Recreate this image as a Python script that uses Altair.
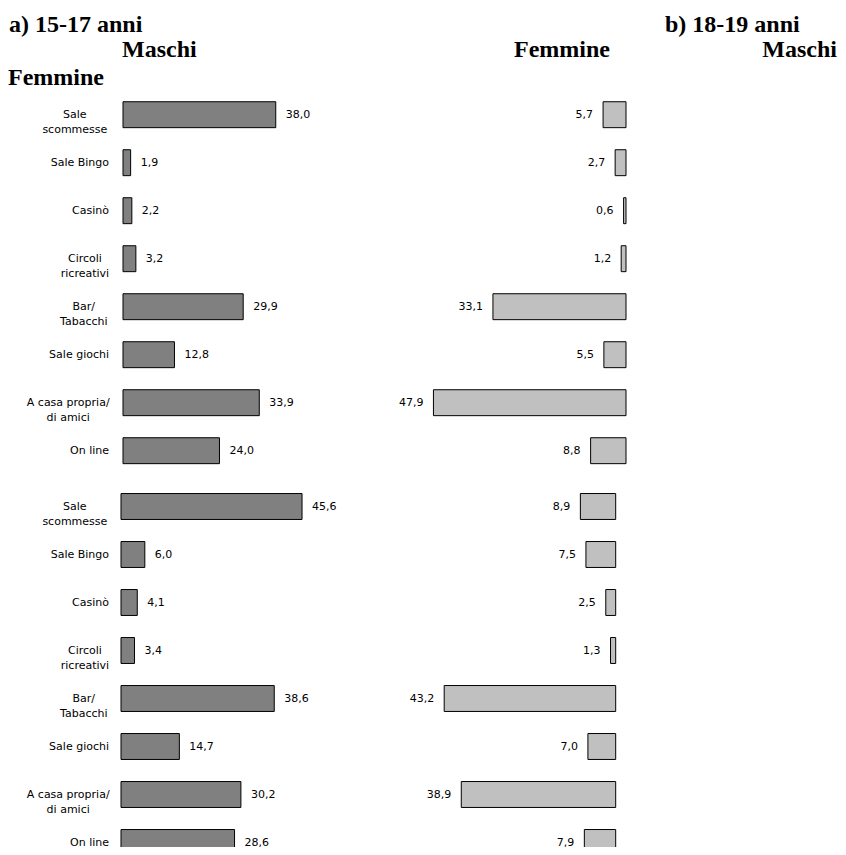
import altair as alt
import pandas as pd

categories = ["Sale scommesse", "Sale Bingo", "Casinò", "Circoli ricreativi",
              "Bar/Tabacchi", "Sale giochi", "A casa propria/di amici", "On line"]
labels = ["Sale\nscommesse", "Sale Bingo", "Casinò", "Circoli\nricreativi",
          "Bar/\nTabacchi", "Sale giochi", "A casa propria/\ndi amici", "On line"]

maschi_15_17 = [38.0, 1.9, 2.2, 3.2, 29.9, 12.8, 33.9, 24.0]
femmine_15_17 = [5.7, 2.7, 0.6, 1.2, 33.1, 5.5, 47.9, 8.8]
maschi_18_19 = [45.6, 6.0, 4.1, 3.4, 38.6, 14.7, 30.2, 28.6]
femmine_18_19 = [8.9, 7.5, 2.5, 1.3, 43.2, 7.0, 38.9, 7.9]

panel_titles = ["a) 15-17 anni", "b) 18-19 anni"]
gender_titles = ["Maschi", "Femmine"]

FONT = "DejaVu Sans"
SERIF = "Liberation Serif"
FS = 11


def panel_df(m, f):
    df = pd.DataFrame({"cat": categories, "label": labels, "m": m, "f": f})
    parts = [s.split("\n") for s in labels]
    df["l1"] = [p[0] for p in parts]
    df["l2"] = [p[1] if len(p) > 1 else "" for p in parts]
    df["nlines"] = [len(p) for p in parts]
    return df


def wexpr(s):
    return (f"(6.7*length({s}) - 3.15*length(replace({s}, regexp('[^ilrtjf/ ]','g'), ''))"
            f" + 4.0*length(replace({s}, regexp('[^mw]','g'), '')))")


LABEL_RIGHT = 101


def panel(df, y_range, xm_range, xf_range):
    ysc = alt.Scale(domain=categories, range=y_range, paddingInner=0.46, paddingOuter=0.23)
    xm = alt.Scale(domain=[0, 50], range=xm_range)
    xf = alt.Scale(domain=[0, 50], range=xf_range)
    Y = alt.Y("cat:N", scale=ysc, axis=None)
    base = alt.Chart(df)

    mbar = base.mark_bar(fill="#808080", stroke="#000000", strokeWidth=1).encode(
        x=alt.X("m:Q", scale=xm, axis=None), y=Y)
    fbar = base.mark_bar(fill="#c0c0c0", stroke="#000000", strokeWidth=1).encode(
        x=alt.X("f:Q", scale=xf, axis=None), y=Y)

    mtxt = base.transform_calculate(
        mt="replace(format(datum.m, '.1f'), '.', ',')"
    ).mark_text(align="left", baseline="middle", dx=10, font=FONT, fontSize=FS, color="#000000").encode(
        x=alt.X("m:Q", scale=xm, axis=None), y=Y, text="mt:N")
    ftxt = base.transform_calculate(
        ft="replace(format(datum.f, '.1f'), '.', ',')"
    ).mark_text(align="right", baseline="middle", dx=-10, font=FONT, fontSize=FS, color="#000000").encode(
        x=alt.X("f:Q", scale=xf, axis=None), y=Y, text="ft:N")

    single = base.transform_filter("datum.nlines == 1").mark_text(
        align="right", baseline="middle", font=FONT, fontSize=FS, color="#000000").encode(
        x=alt.value(LABEL_RIGHT), y=Y, text="label:N")
    multi = base.transform_filter("datum.nlines > 1").transform_calculate(
        cx=f"{LABEL_RIGHT} - max({wexpr('datum.l1')}, {wexpr('datum.l2')})/2"
    ).mark_text(align="center", baseline="middle", font=FONT, fontSize=FS, color="#000000",
                lineBreak="\n", lineHeight=15).encode(
        x=alt.X("cx:Q", scale=None, axis=None), y=Y, text="label:N")
    return [mbar, fbar, mtxt, ftxt, single, multi]


df_a = panel_df(maschi_15_17, femmine_15_17)
df_b = panel_df(maschi_18_19, femmine_18_19)

layers = []
layers += panel(df_a, [82.7, 466.7], [115, 316], [618, 417])
layers += panel(df_b, [474.5, 858.5], [113, 311.5], [607.7, 409.2])


def title(text, x, y, align="left"):
    return alt.Chart(pd.DataFrame({"t": [text]})).mark_text(
        align=align, baseline="alphabetic", font=SERIF, fontSize=24, fontWeight="bold",
        color="#000000").encode(x=alt.value(x), y=alt.value(y), text="t:N")


layers += [
    title(panel_titles[0], 1, 24),
    title(gender_titles[0], 114, 49),
    title(gender_titles[1], 0, 77),
    title(gender_titles[1], 602, 49, align="right"),
    title(panel_titles[1], 657, 24),
    title(gender_titles[0], 829, 49, align="right"),
]

chart = alt.layer(*layers).resolve_scale(x="independent", y="independent").properties(
    width=830, height=839, autosize=alt.AutoSizeParams(type="none"), padding=0
).configure_view(stroke=None)

chart.save("out.html", embed_options={"renderer": "svg", "actions": False})
